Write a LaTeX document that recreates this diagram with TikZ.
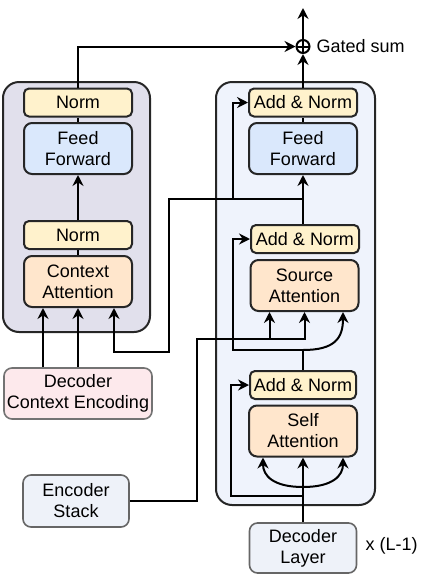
\documentclass[tikz,border=0pt]{standalone}
\usepackage{fontspec}
\setmainfont{Liberation Sans}
\usetikzlibrary{arrows.meta}
\definecolor{normfill}{HTML}{FFF2CC}
\definecolor{fffill}{HTML}{DAE8FC}
\definecolor{attfill}{HTML}{FFE6CC}
\definecolor{ctxfill}{HTML}{FDE9EC}
\definecolor{iofill}{HTML}{EEF2F9}
\definecolor{leftbg}{HTML}{E1E0EC}
\definecolor{rightbg}{HTML}{EFF3FC}

\begin{document}
\begin{tikzpicture}[x=0.5pt,y=-0.5pt,line width=1pt,
    font=\fontsize{9}{10.5}\selectfont,
    arr/.style={-{Stealth[length=5.5pt,width=5.5pt,inset=1.8pt]}},
    box/.style={draw=black!85,rounded corners=2.5pt,align=center,inner sep=0pt,minimum width=54pt},
    normbox/.style={box,fill=normfill,minimum height=14pt},
    ffbox/.style={box,fill=fffill,minimum height=25.5pt,rounded corners=4pt},
    attbox/.style={box,fill=attfill,minimum height=25.5pt,rounded corners=4pt},
    iobox/.style={box,draw=black!60,line width=0.8pt,fill=iofill,minimum height=25.5pt,rounded corners=4pt},
    blockbg/.style={draw=black!85,rounded corners=8pt}]
  \useasboundingbox (0,0) rectangle (437,574);

  % the two layer blocks
  \draw[blockbg,fill=leftbg] (3,82) rectangle (150,332);
  \draw[blockbg,fill=rightbg] (216,82) rectangle (375,505);

  % context side
  \node[normbox] (normL) at (78,102.5) {Norm};
  \node[ffbox] (ffL) at (78,148.5) {Feed\\Forward};
  \node[normbox] (normL2) at (78,235) {Norm};
  \node[attbox] (ctx) at (78,281.5) {Context\\Attention};
  \node[iobox,draw=black!55,fill=ctxfill,minimum width=74pt] (dce) at (78,393.5) {Decoder\\Context Encoding};
  \node[iobox,minimum width=53pt,minimum height=26pt] (enc) at (76,501) {Encoder\\Stack};

  % decoder side
  \node[normbox] (addT) at (303,102.5) {Add \& Norm};
  \node[ffbox] (ffR) at (303,148.5) {Feed\\Forward};
  \node[normbox] (addM) at (305,239) {Add \& Norm};
  \node[attbox] (src) at (304.5,285.5) {Source\\Attention};
  \node[normbox,minimum width=53pt] (addB) at (303,385) {Add \& Norm};
  \node[attbox] (self) at (303,431) {Self\\Attention};
  \node[iobox,minimum width=53.5pt,minimum height=25pt] (dec) at (303,548) {Decoder\\Layer};
  \node[anchor=west] (rep) at (358,546) {x (L-1)};

  % gated sum
  \node[circle,draw,inner sep=0pt,minimum size=6.5pt,
    path picture={\draw (path picture bounding box.north) -- (path picture bounding box.south)
      (path picture bounding box.west) -- (path picture bounding box.east);}] (gsum) at (303,46.5) {};
  \node[anchor=west] (gsumlbl) at (309,46.5) {Gated sum};
  \coordinate (gout) at (303,8);

  \draw[arr] (normL.north) |- (gsum.west);
  \draw[arr] (addT.north) -- (gsum.south);
  \draw[arr] (gsum.north) -- (gout);

  % inside the context block
  \draw (ffL.north) -- (normL.south);
  \draw[arr] (normL2.north) -- (ffL.south);
  \draw (ctx.north) -- (normL2.south);
  \foreach \dx in {-17.5,0}
    \draw[arr] ([xshift=\dx pt]dce.north) -- ([xshift=\dx pt]ctx.south);

  % inside the decoder block
  \coordinate (j1) at (303,199);
  \coordinate (j2) at (303,350);
  \coordinate (j3) at (303,496);
  \coordinate (j4) at (303,487);
  \coordinate (q1) at (169,352);
  \coordinate (e1) at (197,339);
  \coordinate (k1) at ([xshift=-17.5pt]src.south);

  \draw (ffR.north) -- (addT.south);
  \draw[arr] (addM.north -| ffR) -- (ffR.south);
  \draw[arr] (j1) -| ([xshift=-7.5pt]addT.west) -- (addT.west);
  \draw[arr] (j1) -| (q1) -| ([xshift=18pt]ctx.south);

  \draw[arr] (enc.east) -| (e1) -| (src.south);
  \draw[arr] (k1 |- e1) -- (k1);

  \draw (addB.north) -- (j2);
  \draw[arr] (j2) -| ([xshift=-8.5pt]addM.west) -- (addM.west);
  \draw[arr] (j2) .. controls +(32,0) and +(0,26) .. ([xshift=19.25pt]src.south);

  \draw[arr] (dec.north) -- (self.south);
  \draw[arr] (j3) -| ([xshift=-9pt]addB.west) -- (addB.west);
  \draw[arr] (j4) .. controls +(-30,0) and +(0,18) .. ([xshift=-20pt]self.south);
  \draw[arr] (j4) .. controls +(30,0) and +(0,18) .. ([xshift=20pt]self.south);
\end{tikzpicture}
\end{document}
